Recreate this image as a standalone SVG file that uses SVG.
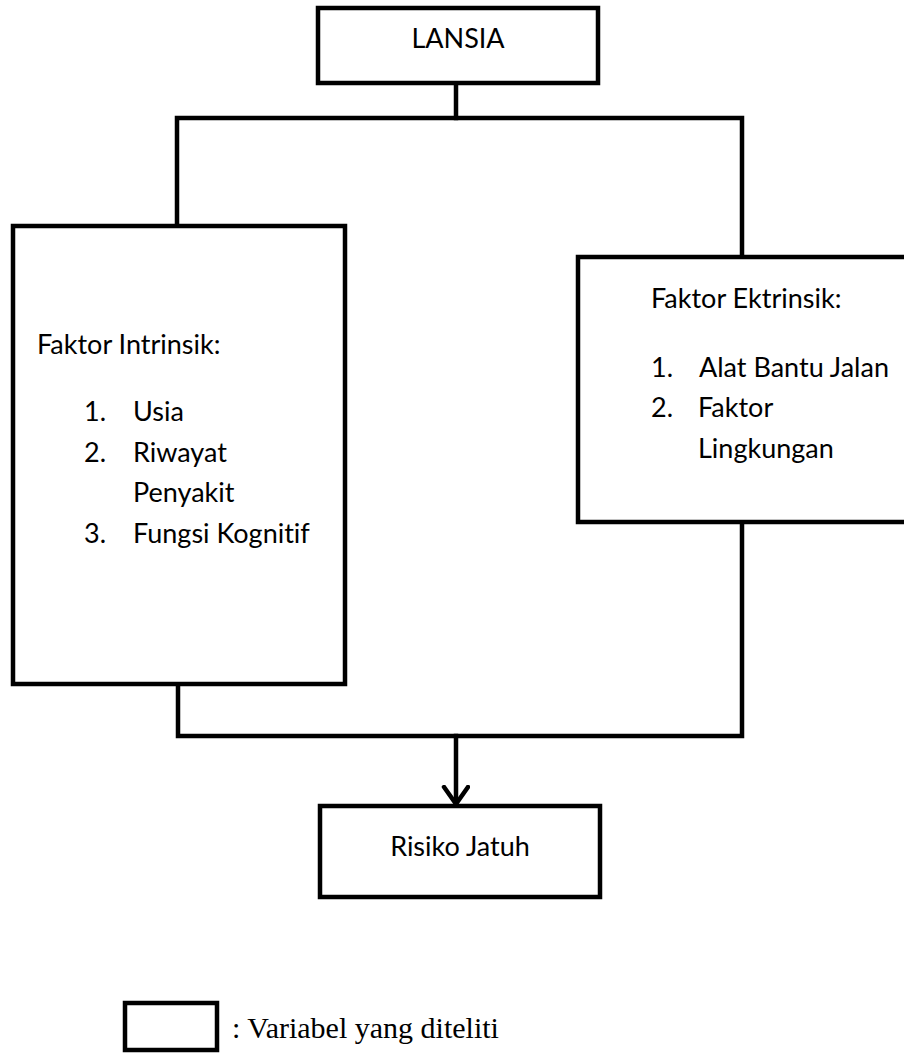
<svg xmlns="http://www.w3.org/2000/svg" width="904" height="1059" viewBox="0 0 904 1059">
<defs>
<style>
.box{fill:#fff;stroke:#000;stroke-width:4.5}
.ln{fill:none;stroke:#000;stroke-width:4.5;stroke-linecap:square}
.t{font-family:Lato,"Open Sans","Liberation Sans",sans-serif;font-size:27px;fill:#000;font-variant-ligatures:none}
.c{text-anchor:middle}
.lg{font-family:"Liberation Serif","Times New Roman",serif;font-size:30px;fill:#000}
</style>
<marker id="arr" markerWidth="22" markerHeight="30" refX="19" refY="14" orient="auto" markerUnits="userSpaceOnUse">
<polyline points="2,2 19,14 2,26" fill="none" stroke="#000" stroke-width="4.5" stroke-linejoin="miter" stroke-linecap="round"/>
</marker>
</defs>
<rect width="904" height="1059" fill="#fff"/>
<g id="connectors">
<polyline class="ln" points="456,83 456,118"/>
<polyline class="ln" points="177,226 177,118 742,118 742,257"/>
<polyline class="ln" points="178,684 178,736 742,736 742,522"/>
<line class="ln" x1="456" y1="736" x2="456" y2="804" marker-end="url(#arr)" stroke-linecap="butt"/>
</g>
<g id="lansia">
<rect class="box" x="318" y="8" width="280" height="75"/>
<text class="t c" x="458" y="48">LANSIA</text>
</g>
<g id="intrinsik">
<rect class="box" x="13" y="226" width="332" height="458"/>
<text class="t" x="37" y="354">Faktor Intrinsik:</text>
<text class="t" x="84" y="421">1.</text><text class="t" x="133" y="421">Usia</text>
<text class="t" x="84" y="462">2.</text><text class="t" x="133" y="462">Riwayat</text>
<text class="t" x="133" y="502">Penyakit</text>
<text class="t" x="84" y="543">3.</text><text class="t" x="133" y="543">Fungsi Kognitif</text>
</g>
<g id="ekstrinsik">
<rect class="box" x="578" y="257" width="340" height="265"/>
<text class="t" x="651" y="308">Faktor Ektrinsik:</text>
<text class="t" x="651" y="377">1.</text><text class="t" x="699" y="377">Alat Bantu Jalan</text>
<text class="t" x="651" y="417">2.</text><text class="t" x="698" y="417">Faktor</text>
<text class="t" x="698" y="458">Lingkungan</text>
</g>
<g id="risiko">
<rect class="box" x="320" y="806" width="280" height="91"/>
<text class="t c" x="460" y="856">Risiko Jatuh</text>
</g>
<g id="legend">
<rect class="box" x="125" y="1003" width="92" height="47"/>
<text class="lg" x="232" y="1038">: Variabel yang diteliti</text>
</g>
</svg>
